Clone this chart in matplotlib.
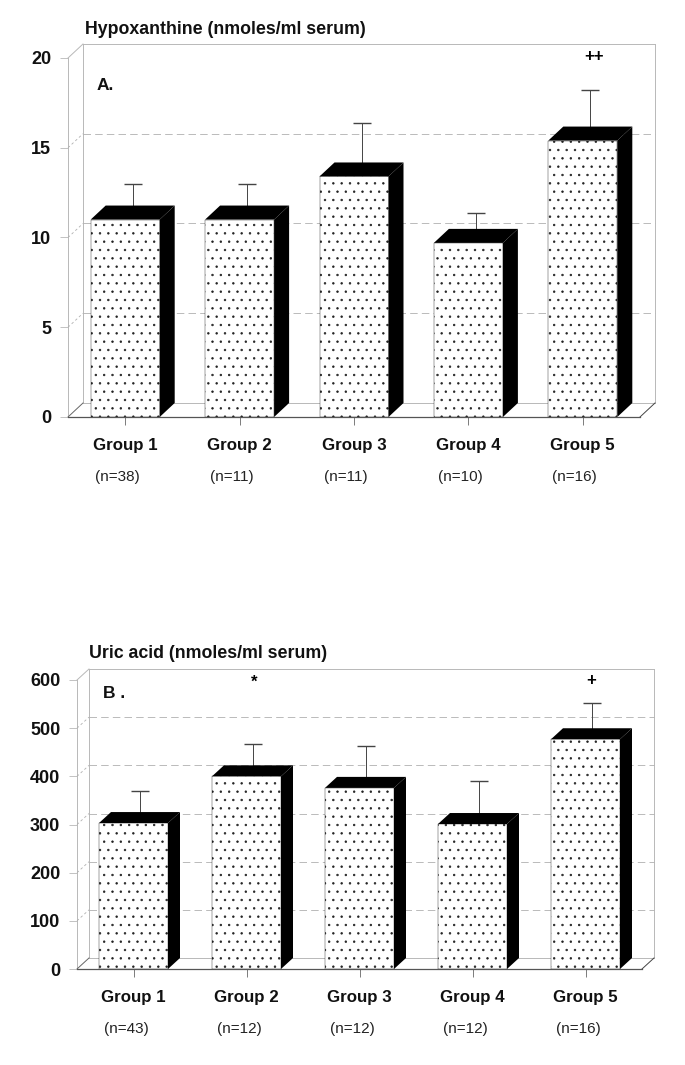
import matplotlib
matplotlib.use("Agg")
import matplotlib.pyplot as plt
import numpy as np

plt.rcParams["font.family"] = ["Liberation Sans", "DejaVu Sans"]
plt.rcParams["hatch.linewidth"] = 0.5

# ---- data ----
GROUPS = ["Group 1", "Group 2", "Group 3", "Group 4", "Group 5"]

HX_MEANS = [11.0, 11.0, 13.4, 9.7, 15.4]
HX_ERRORS = [1.6, 1.6, 2.6, 1.3, 2.4]
HX_COUNTS = ["(n=38)", "(n=11)", "(n=11)", "(n=10)", "(n=16)"]
HX_TICKS = [0, 5, 10, 15, 20]

UA_MEANS = [303, 400, 376, 301, 477]
UA_ERRORS = [56, 55, 76, 77, 63]
UA_COUNTS = ["(n=43)", "(n=12)", "(n=12)", "(n=12)", "(n=16)"]
UA_TICKS = [0, 100, 200, 300, 400, 500, 600]

FIG_W, FIG_H = 685, 1065
GRID_GRAY = "#b0b0b0"
WALL_GRAY = "#b8b8b8"


def panel(rect, depth, means, errors, counts, ticks, title, title_xy, letter, letter_xy,
          marks, count_shift):
    """One pseudo-3D bar panel. rect = left, top, right, bottom in pixels of the front plane."""
    left, top, right, bottom = rect
    ax = fig.add_axes([left / FIG_W, 1 - bottom / FIG_H,
                       (right - left) / FIG_W, (bottom - top) / FIG_H])
    ax.set_xlim(-0.5, 4.5)
    ax.set_ylim(ticks[0], ticks[-1])
    ax.patch.set_visible(False)
    for s in ax.spines.values():
        s.set_visible(False)

    # depth of the box in data units
    dx = depth[0] * 5 / (right - left)
    dy = depth[1] * (ticks[-1] - ticks[0]) / (bottom - top)
    x0, x1, y0, y1 = -0.5, 4.5, ticks[0], ticks[-1]

    # walls and floor
    wall = dict(color=WALL_GRAY, lw=0.7, clip_on=False, zorder=1)
    ax.plot([x0, x0], [y0, y1], **wall)
    ax.plot([x0 + dx, x0 + dx], [y0 + dy, y1 + dy], **wall)
    ax.plot([x1 + dx, x1 + dx], [y0 + dy, y1 + dy], **wall)
    ax.plot([x0 + dx, x1 + dx], [y1 + dy, y1 + dy], **wall)
    ax.plot([x0, x0 + dx], [y1, y1 + dy], **wall)
    ax.plot([x0 + dx, x1 + dx], [y0 + dy, y0 + dy], **wall)
    ax.plot([x0, x0 + dx], [y0, y0 + dy], color="#666666", lw=0.7, clip_on=False, zorder=1)
    ax.plot([x1, x1 + dx], [y0, y0 + dy], color="#444444", lw=0.7, clip_on=False, zorder=1)
    ax.plot([x0, x1], [y0, y0], color="#555555", lw=0.9, clip_on=False, zorder=5)

    # dashed gridlines on the back wall, continuing down the side wall
    for t in ticks[1:-1]:
        ax.plot([x0 + dx, x1 + dx], [t + dy, t + dy], color=GRID_GRAY, lw=0.6,
                dashes=(9, 5), clip_on=False, zorder=1)
        ax.plot([x0, x0 + dx], [t, t + dy], color=GRID_GRAY, lw=0.6,
                dashes=(3, 3), clip_on=False, zorder=1)

    x = np.arange(5)
    width = 69 * 5 / (right - left)

    # error bars sit in the middle of the bar depth, behind the black top
    ax.errorbar(x + dx / 2, np.array(means) + dy / 2, yerr=[np.zeros(5), errors], fmt="none",
                ecolor="#444444", elinewidth=0.7, capsize=6.5, capthick=1.0, clip_on=False,
                zorder=2)

    ax.bar(x, means, width, facecolor="white", edgecolor="#222222", hatch="..", linewidth=0.3,
           zorder=3)
    for xi, m in zip(x, means):
        l, r = xi - width / 2, xi + width / 2
        ax.fill([r, r + dx, r + dx, r], [y0, y0 + dy, m + dy, m], color="black", lw=0, zorder=3)
        ax.fill([l, l + dx, r + dx, r], [m, m + dy, m + dy, m], color="black", lw=0, zorder=3)

    ax.set_yticks(ticks)
    ax.set_yticklabels([str(t) for t in ticks], fontsize=13, fontweight="bold", color="#111111")
    ax.tick_params(axis="y", length=6, width=0.6, color=WALL_GRAY, pad=6)
    ax.set_xticks(x)
    ax.set_xticklabels(GROUPS, fontsize=12.2, fontweight="bold", color="#111111")
    ax.tick_params(axis="x", length=6, width=0.6, color="#666666", pad=9)

    tr = ax.get_xaxis_transform()
    for xi, c in zip(x, counts):
        ax.annotate(c, (xi, 0), xycoords=tr, xytext=(count_shift, -60.5), textcoords="offset pixels",
                    ha="center", va="center", fontsize=11, color="#222222")

    fig.text(title_xy[0] / FIG_W, 1 - title_xy[1] / FIG_H, title, fontsize=12.8,
             fontweight="bold", va="center", color="#111111")
    fig.text(letter_xy[0] / FIG_W, 1 - letter_xy[1] / FIG_H, letter, fontsize=12.5,
             fontweight="bold", va="center", color="#111111")
    for txt, xy, size in marks:
        fig.text(xy[0] / FIG_W, 1 - xy[1] / FIG_H, txt, fontsize=size, ha="center", va="center",
                 fontweight="bold")


fig = plt.figure(figsize=(FIG_W / 100, FIG_H / 100), dpi=100, facecolor="white")

panel((68, 58, 640, 417), (15, 14), HX_MEANS, HX_ERRORS, HX_COUNTS, HX_TICKS,
      "Hypoxanthine (nmoles/ml serum)", (85, 30), "A.", (97, 86),
      [("++", (594, 56), 12)], -8)
panel((77, 680, 642, 969), (12, 11), UA_MEANS, UA_ERRORS, UA_COUNTS, UA_TICKS,
      "Uric acid (nmoles/ml serum)", (89, 654), "B .", (103, 694),
      [("*", (254, 682), 12), ("+", (591, 681), 12)], -7)

fig.savefig("out.png", dpi=100)
